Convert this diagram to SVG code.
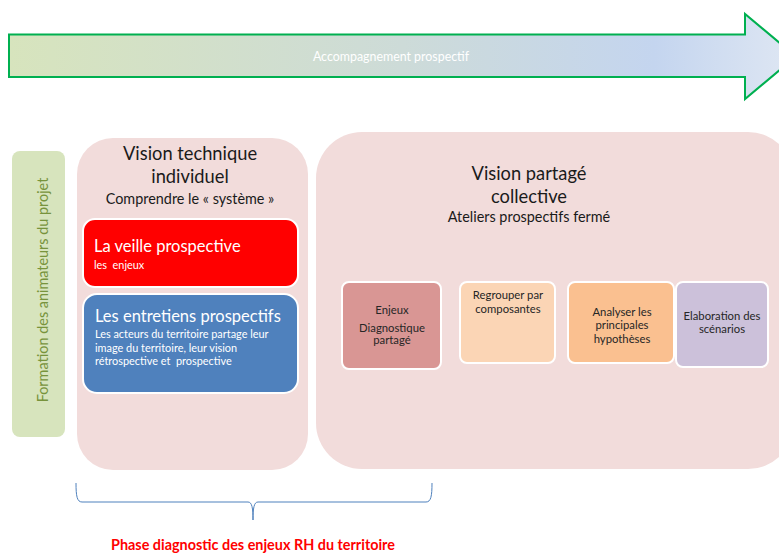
<svg xmlns="http://www.w3.org/2000/svg" width="779" height="553" viewBox="0 0 779 553">
  <defs>
    <linearGradient id="bandFill" x1="0" y1="0" x2="1" y2="0">
      <stop offset="0" stop-color="#d7e4bd"/>
      <stop offset="0.5" stop-color="#cddbd8"/>
      <stop offset="0.82" stop-color="#c4d5ef"/>
      <stop offset="1" stop-color="#dfe7f3"/>
    </linearGradient>
    <style>
      text { font-family: Lato, "Liberation Sans", sans-serif; }
      .title { font-size: 18.3px; fill: #1a1a1a; text-anchor: middle; }
      .sub { font-size: 14.4px; fill: #1a1a1a; text-anchor: middle; }
      .head { font-size: 16.5px; fill: #ffffff; }
      .body { font-size: 10.9px; fill: #ffffff; white-space: pre; }
      .step { font-size: 11.3px; fill: #262626; text-anchor: middle; }
      .card { stroke: #ffffff; stroke-width: 2; }
      .panel { fill: #f2dcdb; }
    </style>
  </defs>

  <!-- timeline band -->
  <g id="band">
    <path d="M9,34.5 L745,34.5 L745,14 L796,56.5 L745,99 L745,77 L9,77 Z" fill="url(#bandFill)" stroke="#00b050" stroke-width="2"/>
    <text x="391" y="61" font-size="12.4" fill="#ffffff" text-anchor="middle">Accompagnement prospectif</text>
  </g>

  <!-- training strip -->
  <g id="training">
    <rect x="12" y="151" width="53" height="286" rx="8" fill="#d7e4bd"/>
    <text transform="translate(48,290) rotate(-90)" font-size="14.4" fill="#77933c" text-anchor="middle">Formation des animateurs du projet</text>
  </g>

  <!-- individual technical view -->
  <g id="vision-technique">
    <rect class="panel" x="77" y="138" width="231" height="332" rx="36"/>
    <text class="title" x="190" y="160">Vision technique</text>
    <text class="title" x="190" y="183">individuel</text>
    <text class="sub" x="190" y="204">Comprendre le « système »</text>
  </g>

  <g id="veille">
    <rect class="card" x="83" y="219" width="215" height="68" rx="12" fill="#ff0000"/>
    <text class="head" x="94" y="252">La veille prospective</text>
    <text class="body" x="94" y="269" xml:space="preserve">les  enjeux</text>
  </g>

  <g id="entretiens">
    <rect class="card" x="83" y="294" width="215" height="99" rx="14" fill="#4f81bd"/>
    <text class="head" x="95" y="322">Les entretiens prospectifs</text>
    <text class="body" x="95" y="338">Les acteurs du territoire partage leur</text>
    <text class="body" x="95" y="352">image du territoire, leur vision</text>
    <text class="body" x="95" y="365" xml:space="preserve">rétrospective et  prospective</text>
  </g>

  <!-- shared collective view -->
  <g id="vision-partagee">
    <rect class="panel" x="316" y="132" width="478" height="337" rx="46"/>
    <text class="title" x="529" y="180">Vision partagé</text>
    <text class="title" x="529" y="203">collective</text>
    <text class="sub" x="529" y="222">Ateliers prospectifs fermé</text>
  </g>

  <g id="enjeux">
    <rect class="card" x="342" y="282" width="99" height="87" rx="7" fill="#d99694"/>
    <text class="step" x="392" y="314" font-size="11.5">Enjeux</text>
    <text class="step" x="392" y="332" font-size="10.6">Diagnostique</text>
    <text class="step" x="392" y="344" font-size="10.6">partagé</text>
  </g>

  <g id="regrouper">
    <rect class="card" x="460" y="282" width="95" height="81" rx="7" fill="#fbd5b5"/>
    <text class="step" x="508" y="299">Regrouper par</text>
    <text class="step" x="508" y="313">composantes</text>
  </g>

  <g id="analyser">
    <rect class="card" x="568" y="282" width="106" height="81" rx="7" fill="#fac090"/>
    <text class="step" x="622" y="316">Analyser les</text>
    <text class="step" x="622" y="329">principales</text>
    <text class="step" x="622" y="343">hypothèses</text>
  </g>

  <g id="elaboration">
    <rect class="card" x="676" y="282" width="92" height="85" rx="7" fill="#ccc1da"/>
    <text class="step" x="722" y="320">Elaboration des</text>
    <text class="step" x="722" y="333">scénarios</text>
  </g>

  <!-- phase brace -->
  <g id="connectors">
    <path d="M76,483 C76,496 77,502 82,502 L248,502 C252,502 253,508 253,520 C253,508 254,502 258,502 L426,502 C431,502 432,496 432,483" fill="none" stroke="#4f81bd" stroke-width="1"/>
  </g>

  <g id="phase">
    <text x="253" y="550" font-size="14.4" font-weight="bold" fill="#ff0000" text-anchor="middle">Phase diagnostic des enjeux RH du territoire</text>
  </g>
</svg>
